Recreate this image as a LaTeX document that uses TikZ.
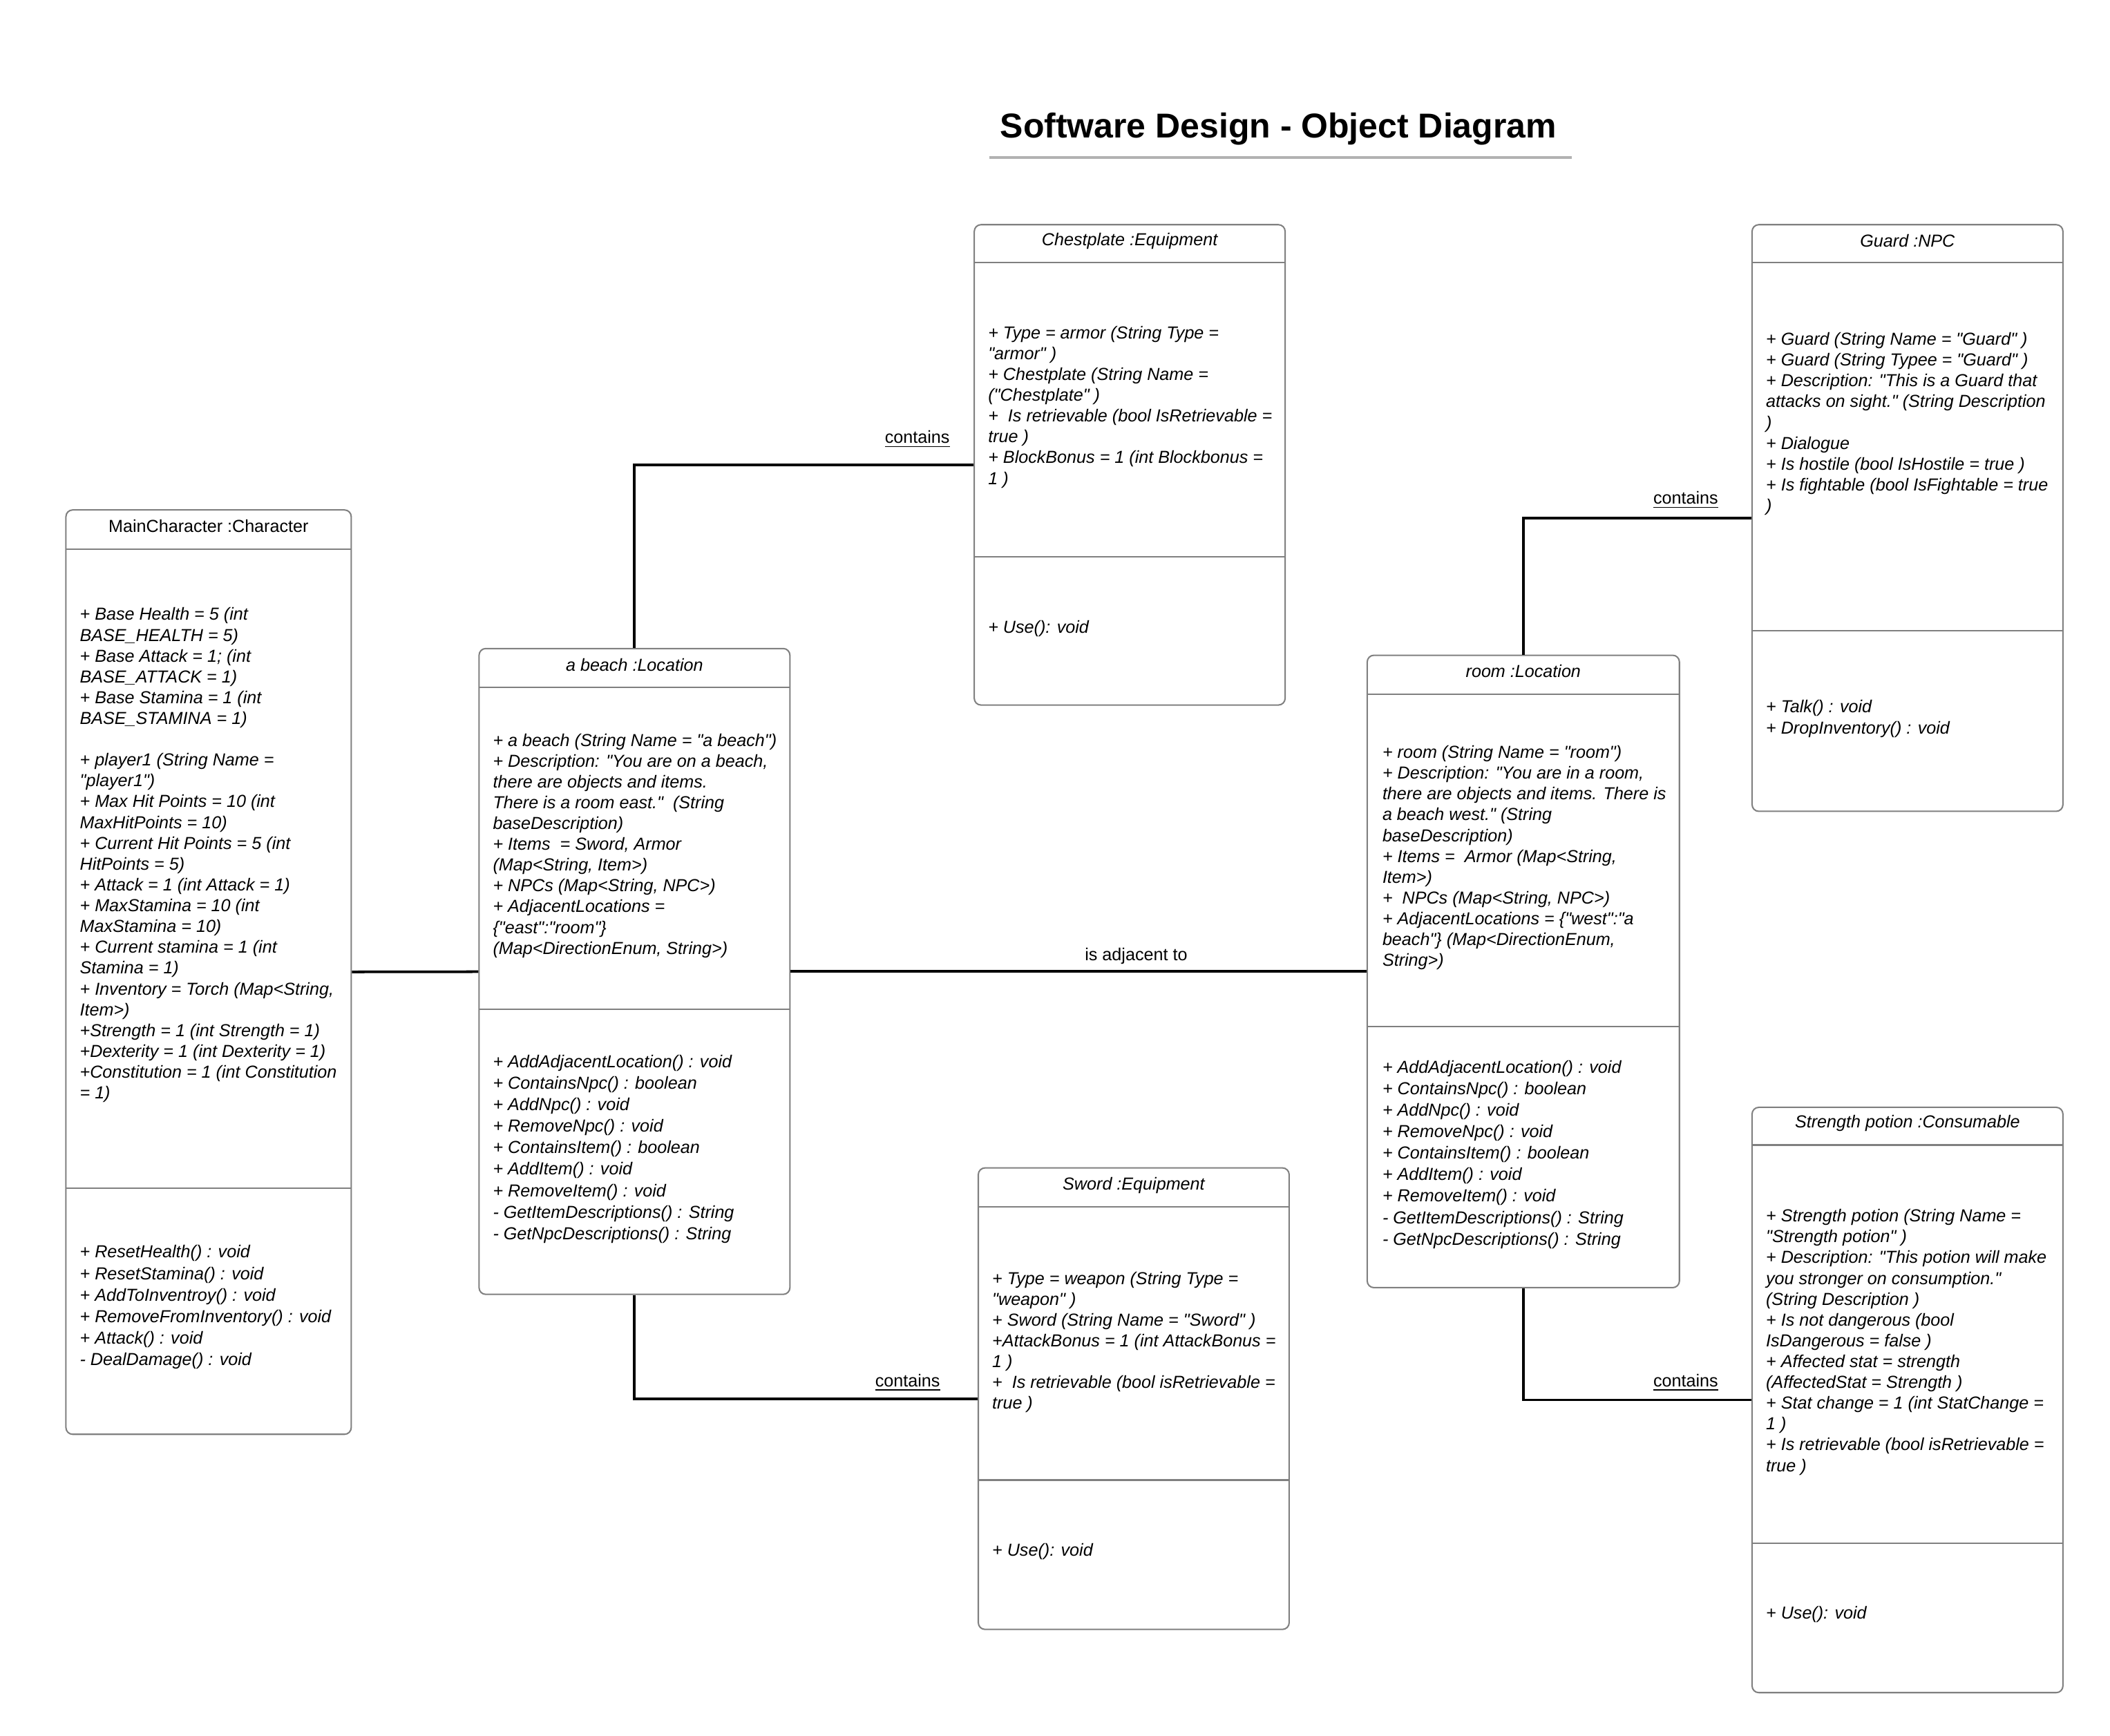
\documentclass[tikz,border=0pt]{standalone}
\usepackage{fontspec}
\setmainfont{Liberation Sans}[Ligatures=TeXOff]
\usepackage{tikz}
\usetikzlibrary{fit}
\definecolor{boxgray}{RGB}{128,128,128}
\definecolor{rulegray}{RGB}{178,178,178}
\tikzset{objbox/.style = {draw=boxgray, line width=0.6pt, rounded corners=0.1cm, inner sep=0pt},
         objtitle/.style = {font=\fontsize{7.35}{8.8}\selectfont\itshape, inner sep=0pt},
         divline/.style = {draw=boxgray, line width=0.6pt},
         attrs/.style = {font=\fontsize{7.35}{8.8}\selectfont\itshape, align=left, anchor=west, inner sep=0pt},
         meths/.style = {font=\fontsize{7.35}{9.1}\selectfont\itshape, align=left, anchor=west, inner sep=0pt},
         link/.style = {line width=1.1pt},
         linklabel/.style = {font=\fontsize{7.35}{8.8}\selectfont, inner sep=2.5pt}}

\begin{document}
\begin{tikzpicture}[x=0.02cm, y=-0.02cm]
    \useasboundingbox (0, 0) rectangle (1568, 1290);

    \node [font=\fontsize{14.6}{17}\selectfont\bfseries] (title) at (950, 96) {Software Design - Object Diagram};
    \draw [rulegray, line width=1pt] (735, 117) -- (1168, 117);

    % MainCharacter
    \node [objbox, fit={(49, 379) (261, 1066)}] (hero) {};
    \node [objtitle, font=\fontsize{7.35}{8.8}\selectfont] (hero-name) at (155, 391) {MainCharacter :Character};
    \draw [divline] (49, 408) -- (261, 408);
    \draw [divline] (49, 883) -- (261, 883);
    \node [attrs] (hero-attrs) at (59, 635.5) {+ Base Health = 5 (int\\
        BASE\_HEALTH = 5)\\
        + Base Attack = 1; (int\\
        BASE\_ATTACK = 1)\\
        + Base Stamina = 1 (int\\
        BASE\_STAMINA = 1)\\[8.8pt]
        + player1 (String Name =\\
        "player1")\\
        + Max Hit Points = 10 (int\\
        MaxHitPoints = 10)\\
        + Current Hit Points = 5 (int\\
        HitPoints = 5)\\
        + Attack = 1 (int Attack = 1)\\
        + MaxStamina = 10 (int\\
        MaxStamina = 10)\\
        + Current stamina = 1 (int\\
        Stamina = 1)\\
        + Inventory = Torch (Map<String,\\
        Item>)\\
        +Strength = 1 (int Strength = 1)\\
        +Dexterity = 1 (int Dexterity = 1)\\
        +Constitution = 1 (int Constitution\\
        = 1)};
    \node [meths] (hero-meths) at (59, 971.5) {+ ResetHealth() : void\\
        + ResetStamina() : void\\
        + AddToInventroy() : void\\
        + RemoveFromInventory() : void\\
        + Attack() : void\\
        - DealDamage() : void};

    % a beach
    \node [objbox, fit={(356, 482) (587, 962)}] (beach) {};
    \node [objtitle] (beach-name) at (471.5, 494) {a beach :Location};
    \draw [divline] (356, 511) -- (587, 511);
    \draw [divline] (356, 750) -- (587, 750);
    \node [attrs] (beach-attrs) at (366, 628.5) {+ a beach (String Name = "a beach")\\
        + Description: "You are on a beach,\\
        there are objects and items.\\
        There is a room east."\ \ (String\\
        baseDescription)\\
        + Items\ \ = Sword, Armor\\
        (Map<String, Item>)\\
        + NPCs (Map<String, NPC>)\\
        + AdjacentLocations =\\
        \{"east":"room"\}\\
        (Map<DirectionEnum, String>)};
    \node [meths] (beach-meths) at (366, 854) {+ AddAdjacentLocation() : void\\
        + ContainsNpc() : boolean\\
        + AddNpc() : void\\
        + RemoveNpc() : void\\
        + ContainsItem() : boolean\\
        + AddItem() : void\\
        + RemoveItem() : void\\
        - GetItemDescriptions() : String\\
        - GetNpcDescriptions() : String};

    % Chestplate
    \node [objbox, fit={(724, 167) (955, 524)}] (chest) {};
    \node [objtitle] (chest-name) at (839.5, 179) {Chestplate :Equipment};
    \draw [divline] (724, 195) -- (955, 195);
    \draw [divline] (724, 414) -- (955, 414);
    \node [attrs] (chest-attrs) at (734, 302.5) {+ Type = armor (String Type =\\
        "armor" )\\
        + Chestplate (String Name =\\
        ("Chestplate" )\\
        +\ \ Is retrievable (bool IsRetrievable =\\
        true )\\
        + BlockBonus = 1 (int Blockbonus =\\
        1 )};
    \node [meths] (chest-meths) at (734, 467) {+ Use(): void};

    % Sword
    \node [objbox, fit={(727, 868) (958, 1211)}] (sword) {};
    \node [objtitle] (sword-name) at (842.5, 881) {Sword :Equipment};
    \draw [divline] (727, 897) -- (958, 897);
    \draw [divline] (727, 1100) -- (958, 1100);
    \node [attrs] (sword-attrs) at (737, 997.5) {+ Type = weapon (String Type =\\
        "weapon" )\\
        + Sword (String Name = "Sword" )\\
        +AttackBonus = 1 (int AttackBonus =\\
        1 )\\
        +\ \ Is retrievable (bool isRetrievable =\\
        true )};
    \node [meths] (sword-meths) at (737, 1153) {+ Use(): void};

    % room
    \node [objbox, fit={(1016, 487) (1248, 957)}] (room) {};
    \node [objtitle] (room-name) at (1132, 499) {room :Location};
    \draw [divline] (1016, 516) -- (1248, 516);
    \draw [divline] (1016, 763) -- (1248, 763);
    \node [attrs] (room-attrs) at (1027, 637.5) {+ room (String Name = "room")\\
        + Description: "You are in a room,\\
        there are objects and items. There is\\
        a beach west." (String\\
        baseDescription)\\
        + Items =\ \ Armor (Map<String,\\
        Item>)\\
        +\ \ NPCs (Map<String, NPC>)\\
        + AdjacentLocations = \{"west":"a\\
        beach"\} (Map<DirectionEnum,\\
        String>)};
    \node [meths] (room-meths) at (1027, 858) {+ AddAdjacentLocation() : void\\
        + ContainsNpc() : boolean\\
        + AddNpc() : void\\
        + RemoveNpc() : void\\
        + ContainsItem() : boolean\\
        + AddItem() : void\\
        + RemoveItem() : void\\
        - GetItemDescriptions() : String\\
        - GetNpcDescriptions() : String};

    % Guard
    \node [objbox, fit={(1302, 167) (1533, 603)}] (guard) {};
    \node [objtitle] (guard-name) at (1417.5, 179) {Guard :NPC};
    \draw [divline] (1302, 195) -- (1533, 195);
    \draw [divline] (1302, 469) -- (1533, 469);
    \node [attrs] (guard-attrs) at (1312, 315) {+ Guard (String Name = "Guard" )\\
        + Guard (String Typee = "Guard" )\\
        + Description: "This is a Guard that\\
        attacks on sight." (String Description\\
        )\\
        + Dialogue\\
        + Is hostile (bool IsHostile = true )\\
        + Is fightable (bool IsFightable = true\\
        )};
    \node [meths] (guard-meths) at (1312, 534) {+ Talk() : void\\
        + DropInventory() : void};

    % Strength potion
    \node [objbox, fit={(1302, 823) (1533, 1258)}] (potion) {};
    \node [objtitle] (potion-name) at (1417.5, 835) {Strength potion :Consumable};
    \draw [divline] (1302, 851) -- (1533, 851);
    \draw [divline] (1302, 1147) -- (1533, 1147);
    \node [attrs] (potion-attrs) at (1312, 997.5) {+ Strength potion (String Name =\\
        "Strength potion" )\\
        + Description: "This potion will make\\
        you stronger on consumption."\\
        (String Description )\\
        + Is not dangerous (bool\\
        IsDangerous = false )\\
        + Affected stat = strength\\
        (AffectedStat = Strength )\\
        + Stat change = 1 (int StatChange =\\
        1 )\\
        + Is retrievable (bool isRetrievable =\\
        true )};
    \node [meths] (potion-meths) at (1312, 1200) {+ Use(): void};

    % links
    \draw [link] (hero) -- (beach);
    \draw [link] (beach) -- node [pos=0.6, above, linklabel] (adj) {is adjacent to} (room);
    \draw [link] (beach.north) |- node [pos=0.917, above, linklabel, yshift=0.14cm] (has-chest) {\underline{contains}} (chest.west);
    \draw [link] (beach.south) |- node [pos=0.898, above, linklabel] (has-sword) {\underline{contains}} (sword.west);
    \draw [link] (room.north) |- node [pos=0.856, above, linklabel, yshift=0.03cm] (has-guard) {\underline{contains}} (guard.west);
    \draw [link] (room.south) |- node [pos=0.856, above, linklabel, yshift=0.02cm] (has-potion) {\underline{contains}} (potion.west);
\end{tikzpicture}
\end{document}
